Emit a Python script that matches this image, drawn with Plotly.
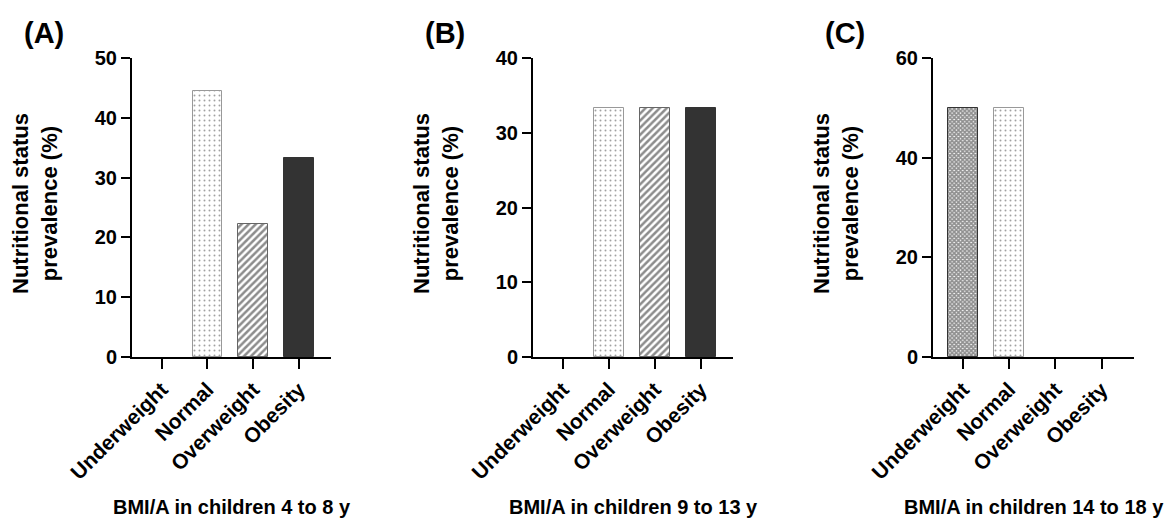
import plotly.graph_objects as go

categories = ["Underweight", "Normal", "Overweight", "Obesity"]
prev_4_8 = [0, 44.4, 22.2, 33.3]
prev_9_13 = [0, 33.3, 33.3, 33.3]
prev_14_18 = [50, 50, 0, 0]

panel_letters = ["(A)", "(B)", "(C)"]
x_titles = ["BMI/A in children 4 to 8 y", "BMI/A in children 9 to 13 y", "BMI/A in children 14 to 18 y"]
y_title = "Nutritional status<br>prevalence (%)"
y_max = [50, 40, 60]
y_dtick = [10, 10, 20]

W, H = 1167, 520
FONT = "Liberation Sans, Arial, sans-serif"

# per-category styles
styles = {
    "Underweight": dict(shape="x", size=3, solidity=0.8, fg="#222222", fill="white", edge="#333333"),
    "Normal": dict(shape=".", size=5, solidity=0.12, fg="#444444", fill="white", edge="#999999"),
    "Overweight": dict(shape="/", size=5, solidity=0.5, fg="#1a1a1a", fill="white", edge="#666666"),
    "Obesity": dict(shape="", size=6, solidity=0.3, fg="#333333", fill="#333333", edge="#333333"),
}

x_left = [132, 533, 933]
x_right = [331, 733, 1134]
y_top, y_bot = 58, 357

fig = go.Figure()
series = [prev_4_8, prev_9_13, prev_14_18]
for i, vals in enumerate(series):
    sfx = "" if i == 0 else str(i + 1)
    for c, v in zip(categories, vals):
        s = styles[c]
        pattern = dict(shape=s["shape"], size=s["size"], solidity=s["solidity"],
                       fgcolor=s["fg"], bgcolor=s["fill"], fillmode="overlay")
        fig.add_trace(go.Bar(
            x=[c], y=[v], width=0.65,
            xaxis="x" + sfx, yaxis="y" + sfx,
            marker=dict(
                color=s["fill"],
                line=dict(color=s["edge"], width=1 if v > 0 else 0),
                pattern=pattern,
            ),
            showlegend=False,
        ))

layout = dict(
    template="none",
    width=W, height=H,
    margin=dict(l=0, r=0, t=0, b=0, autoexpand=False),
    paper_bgcolor="white", plot_bgcolor="white",
    font=dict(family=FONT, color="black"),
    bargap=0, barmode="overlay",
)
annotations = []
for i in range(3):
    sfx = "" if i == 0 else str(i + 1)
    layout["xaxis" + sfx] = dict(
        domain=[x_left[i] / W, x_right[i] / W],
        anchor="y" + sfx, type="category",
        categoryorder="array", categoryarray=categories,
        range=[-0.65, 3.7], automargin=False,
        showline=True, linecolor="black", linewidth=2,
        ticks="outside", ticklen=10, tickwidth=2, tickcolor="black",
        tickangle=-45, showgrid=False, zeroline=False,
        tickfont=dict(family=FONT, size=21, weight="bold", color="black"),
        fixedrange=True,
    )
    layout["yaxis" + sfx] = dict(
        domain=[1 - y_bot / H, 1 - y_top / H],
        anchor="x" + sfx, range=[0, y_max[i]], dtick=y_dtick[i],
        automargin=False,
        showline=True, linecolor="black", linewidth=2,
        ticks="outside", ticklen=9, tickwidth=2, tickcolor="black",
        showgrid=False, zeroline=False,
        tickfont=dict(family=FONT, size=20, weight="bold", color="black"),
        fixedrange=True,
    )
    cx = (x_left[i] + x_right[i]) / 2
    annotations.append(dict(
        text=x_titles[i], xref="paper", yref="paper",
        x=cx / W, y=1 - 507 / H, showarrow=False,
        xanchor="center", yanchor="middle",
        font=dict(family=FONT, size=20, weight="bold", color="black"),
    ))
    annotations.append(dict(
        text=y_title, xref="paper", yref="paper",
        x=(x_left[i] - 97) / W, y=1 - 204 / H, showarrow=False,
        xanchor="center", yanchor="middle", textangle=-90,
        font=dict(family=FONT, size=22, weight="bold", color="black"),
    ))
    annotations.append(dict(
        text=panel_letters[i], xref="paper", yref="paper",
        x=(x_left[i] - 88) / W, y=1 - 33 / H, showarrow=False,
        xanchor="center", yanchor="middle",
        font=dict(family=FONT, size=29, weight="bold", color="black"),
    ))
layout["annotations"] = annotations
fig.update_layout(**layout)

fig.write_html("out.html", config={"displayModeBar": False},
               post_script="document.body.style.margin='0';document.body.style.overflow='hidden';")
